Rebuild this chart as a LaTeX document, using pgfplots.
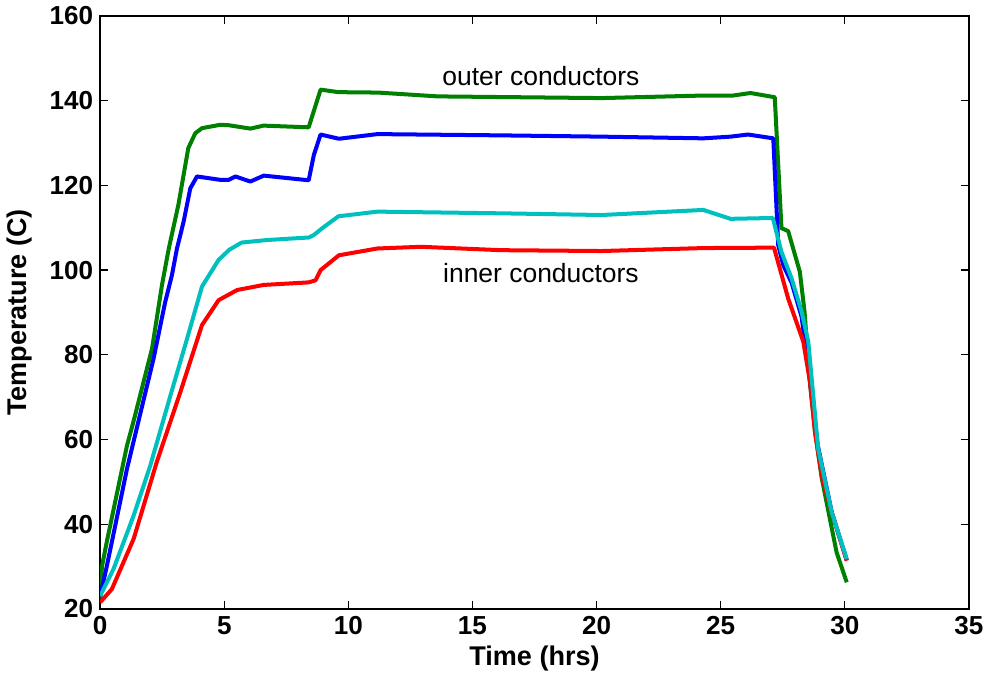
\documentclass[border=0pt]{standalone}
\usepackage{fontspec}
\setmainfont{Liberation Sans}
\usepackage{pgfplots}
\pgfplotsset{compat=1.18}
\definecolor{mgreen}{rgb}{0,0.5,0}
\definecolor{mblue}{rgb}{0,0,1}
\definecolor{mcyan}{rgb}{0,0.75,0.75}
\definecolor{mred}{rgb}{1,0,0}

\begin{document}
\begin{tikzpicture}
  \begin{axis}[
    width = 433.5pt,
    height = 296pt,
    scale only axis,
    xmin=0, xmax=35, ymin=20, ymax=160,
    xtick={0,5,...,35},
    ytick={20,40,...,160},
    tick align=inside,
    tick pos=both,
    major tick length=4pt,
    axis line style={line width=0.8pt},
    tick style={line width=0.6pt, black},
    xlabel = {Time (hrs)},
    ylabel = {Temperature (C)},
    label style={font=\fontsize{13.5}{15}\selectfont\bfseries},
    tick label style={font=\fontsize{13}{15}\selectfont\bfseries},
    /pgf/number format/assume math mode=true,
    xlabel style={yshift=1pt},
    ylabel style={yshift=2pt},
    every axis plot/.append style={line width=2pt, line join=round, mark=none},
  ]

  % outer conductor, upper
  \addplot[mgreen] coordinates {
    (0,22.5) (0.07,30) (0.27,36) (1.08,58.6) (1.33,64) (2.09,81.5)
    (2.49,96.5) (2.76,105) (3.15,115.4) (3.55,128.8) (3.83,132.3)
    (4.1,133.5) (4.84,134.3) (5.17,134.2) (6.05,133.4) (6.58,134.1)
    (8.4,133.7) (8.88,142.6) (9.6,142.0) (11.2,141.9) (13.6,141.0)
    (20.2,140.6) (24.3,141.2) (25.5,141.2) (26.2,141.8) (27.18,140.8)
    (27.45,109.9) (27.72,109.2) (28.19,99.6) (28.38,90.2) (28.58,74.4)
    (28.8,62) (29.07,51) (29.67,33.4) (30.08,26.3)
  };

  % outer conductor, lower
  \addplot[mblue] coordinates {
    (0,23) (0.27,30.2) (1.08,53.1) (2.15,79.1) (2.62,92.5) (2.89,98.8)
    (3.09,105) (3.36,111.4) (3.63,119.3) (3.9,122.1) (4.84,121.3)
    (5.18,121.3) (5.45,122.1) (6.05,120.9) (6.59,122.3) (8.4,121.2)
    (8.61,127.2) (8.88,132) (9.62,131) (11.17,132.1) (16.15,131.8)
    (20.2,131.5) (24.3,131.1) (25.4,131.5) (26.1,132) (27.12,131.1)
    (27.32,105.9) (27.52,101.2) (27.86,97) (28.26,89) (28.6,74)
    (28.9,59) (29.47,43) (30.08,31.5)
  };

  % inner conductor, lower
  \addplot[mred] coordinates {
    (0,21.6) (0.47,24.7) (1.35,36.6) (2.28,54.7) (3.23,71.2) (4.1,87)
    (4.77,92.9) (5.52,95.3) (6.59,96.5) (8.4,97.1) (8.68,97.6) (8.88,100)
    (9.62,103.5) (11.17,105.1) (12.92,105.5) (16.15,104.7) (20.2,104.5)
    (24.3,105.2) (27.15,105.3) (27.72,93.3) (28.33,83.1) (28.6,73.6)
    (28.8,61.8) (29.07,51.5) (29.47,42.9) (30.08,31.4)
  };

  % inner conductor, upper
  \addplot[mcyan] coordinates {
    (0,23.1) (0.54,29.5) (1.35,42.1) (2.02,53.9) (2.83,70.4) (3.5,83.8)
    (4.1,96.1) (4.77,102.4) (5.2,104.8) (5.7,106.5) (6.73,107.1)
    (8.41,107.7) (8.61,108.3) (8.95,109.9) (9.6,112.7) (11.17,113.8)
    (16.15,113.4) (20.2,113) (24.3,114.2) (25.4,112.1) (27.1,112.3)
    (27.45,104.3) (27.86,98) (28.26,90.2) (28.53,83.1) (28.93,57.8)
    (29.47,42.9) (30.08,31.8)
  };

  \node[font=\fontsize{13.2}{15}\selectfont] at (axis cs:17.76,145.8) {outer conductors};
  \node[font=\fontsize{13.2}{15}\selectfont] at (axis cs:17.76,99.4) {inner conductors};

  \end{axis}
\end{tikzpicture}
\end{document}
